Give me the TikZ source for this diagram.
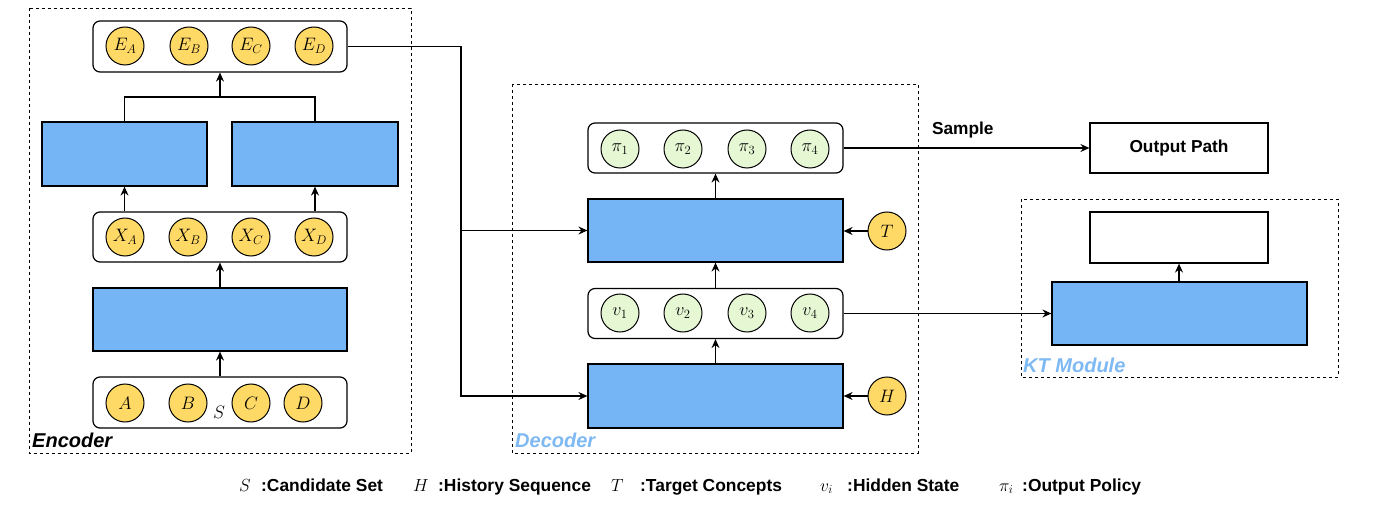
\documentclass[tikz,border=0pt]{standalone}
\usepackage{fix-cm}
\usepackage{fontspec}
\setsansfont{Liberation Sans}
\usetikzlibrary{arrows.meta}
\definecolor{yel}{HTML}{FFD966}
\definecolor{grn}{HTML}{E6F7D4}
\definecolor{bfill}{HTML}{75B5F5}
\definecolor{blab}{HTML}{7EB9F3}
\tikzset{
  frame/.style={draw, dash pattern=on 3pt off 3pt, line width=0.9pt},
  rowbox/.style={draw, rounded corners=7pt, line width=1.2pt, fill=white, inner sep=0pt},
  bluebox/.style={draw, fill=bfill, line width=1.2pt, inner sep=0pt},
  whitebox/.style={draw, fill=white, line width=1.2pt, inner sep=0pt},
  ycirc/.style={circle, draw, fill=yel, minimum size=38pt, inner sep=0pt, line width=1pt, font=\fontsize{18}{20}\selectfont},
  gcirc/.style={circle, draw, fill=grn, minimum size=38pt, inner sep=0pt, line width=1pt, font=\fontsize{18}{20}\selectfont},
  arr/.style={-{Stealth[length=9pt,width=8pt,inset=3pt]}, line width=1.2pt},
  ln/.style={line width=1.2pt},
  sflab/.style={font=\sffamily\bfseries\fontsize{17.3}{20}\selectfont, inner sep=0pt},
  grplab/.style={font=\sffamily\bfseries\itshape\fontsize{20}{23}\selectfont, inner sep=0pt, anchor=base west},
  legm/.style={font=\fontsize{17.5}{20}\selectfont, inner sep=0pt, anchor=base west},
  legt/.style={font=\sffamily\bfseries\fontsize{17.4}{20}\selectfont, inner sep=0pt, anchor=base west}
}
\begin{document}
\begin{tikzpicture}[x=1pt,y=-1pt]
\useasboundingbox (0,0) rectangle (1377,513);

% ---------- frames
\draw[frame] (29,8) rectangle (411,453);
\draw[frame] (512,84) rectangle (918,453);
\draw[frame] (1021,199) rectangle (1338,377);
\node[grplab] (lenc) at (32,447) {Encoder};
\node[grplab, text=blab] (ldec) at (515,447) {Decoder};
\node[grplab, text=blab] (lkt) at (1023,372) {KT Module};

% ---------- encoder
\node[rowbox, minimum width=254pt, minimum height=51pt] (eE) at (220,46.5) {};
\node[ycirc] (ea) at (125,46) {$E_A$};
\node[ycirc] (eb) at (189,46) {$E_B$};
\node[ycirc] (ec) at (251,46) {$E_C$};
\node[ycirc] (ed) at (314,46) {$E_D$};

\node[bluebox, minimum width=165pt, minimum height=64pt] (eL) at (124.5,154) {};
\node[bluebox, minimum width=166pt, minimum height=64pt] (eR) at (315,154) {};

\node[rowbox, minimum width=254pt, minimum height=50pt] (eX) at (220,237) {};
\node[ycirc] (xa) at (125,237) {$X_A$};
\node[ycirc] (xb) at (188,237) {$X_B$};
\node[ycirc] (xc) at (251,237) {$X_C$};
\node[ycirc] (xd) at (314,237) {$X_D$};

\node[bluebox, minimum width=254pt, minimum height=63pt] (eM) at (220,319.5) {};

\node[rowbox, minimum width=254pt, minimum height=51pt] (eS) at (220,402.5) {};
\node[ycirc] (sa) at (125,403) {$A$};
\node[ycirc] (sb) at (188,403) {$B$};
\node[ycirc] (sc) at (251,403) {$C$};
\node[ycirc] (sd) at (303,403) {$D$};
\node[font=\fontsize{18}{20}\selectfont, inner sep=0pt] (slab) at (219,412) {$S$};

\coordinate (split) at (220,97);
\draw[ln] (eL.north) |- (split) -| (eR.north);
\draw[arr] (split) -- (eE.south);
\draw[arr] (eX.north -| eL.south) -- (eL.south);
\draw[arr] (eX.north -| eR.south) -- (eR.south);
\draw[arr] (eM.north) -- (eX.south);
\draw[arr] (eS.north) -- (eM.south);

% ---------- decoder
\node[rowbox, minimum width=255pt, minimum height=50pt] (dP) at (715.5,148) {};
\node[gcirc] (p1) at (620,149) {$\pi_1$};
\node[gcirc] (p2) at (683,149) {$\pi_2$};
\node[gcirc] (p3) at (747,149) {$\pi_3$};
\node[gcirc] (p4) at (810,149) {$\pi_4$};

\node[bluebox, minimum width=255pt, minimum height=63pt] (dU) at (715.5,230.5) {};
\node[ycirc] (tt) at (887,231) {$T$};

\node[rowbox, minimum width=255pt, minimum height=50pt] (dV) at (715.5,313.5) {};
\node[gcirc] (v1) at (620,313) {$v_1$};
\node[gcirc] (v2) at (683,313) {$v_2$};
\node[gcirc] (v3) at (747,313) {$v_3$};
\node[gcirc] (v4) at (810,313) {$v_4$};

\node[bluebox, minimum width=255pt, minimum height=64pt] (dL) at (715.5,396) {};
\node[ycirc] (hh) at (887,396) {$H$};

\draw[arr] (dU.north) -- (dP.south);
\draw[arr] (dV.north) -- (dU.south);
\draw[arr] (dL.north) -- (dV.south);
\draw[arr] (tt.west) -- (tt.west -| dU.east);
\draw[arr] (hh.west) -- (hh.west -| dL.east);

\coordinate (bus) at (461,396);
\coordinate (tap) at (461,230.5);
\draw[arr] (eE.east) -| (bus) -- (dL.west);
\draw[arr] (tap) -- (dU.west);

% ---------- output and KT
\node[whitebox, minimum width=178pt, minimum height=50pt, sflab] (out) at (1179,148) {Output Path};
\draw[arr] (dP.east) -- node[sflab, above=9pt, pos=0.485] (samp) {Sample} (out.west);

\node[whitebox, minimum width=178pt, minimum height=51pt] (kW) at (1179,237.5) {};
\node[bluebox, minimum width=255pt, minimum height=63pt] (kB) at (1179.5,313.5) {};
\draw[arr] (kB.north -| kW.south) -- (kW.south);
\draw[arr] (dV.east) -- (dV.east -| kB.west);

% ---------- legend
\node[legm] (m1) at (239,491) {$S$};
\node[legt] (t1) at (261,491) {:Candidate Set};
\node[legm] (m2) at (413,491) {$H$};
\node[legt] (t2) at (438,491) {:History Sequence};
\node[legm] (m3) at (611,491) {$T$};
\node[legt] (t3) at (640,491) {:Target Concepts};
\node[legm] (m4) at (820,491) {$v_i$};
\node[legt] (t4) at (847,491) {:Hidden State};
\node[legm] (m5) at (999,491) {$\pi_i$};
\node[legt] (t5) at (1022,491) {:Output Policy};
\end{tikzpicture}
\end{document}
